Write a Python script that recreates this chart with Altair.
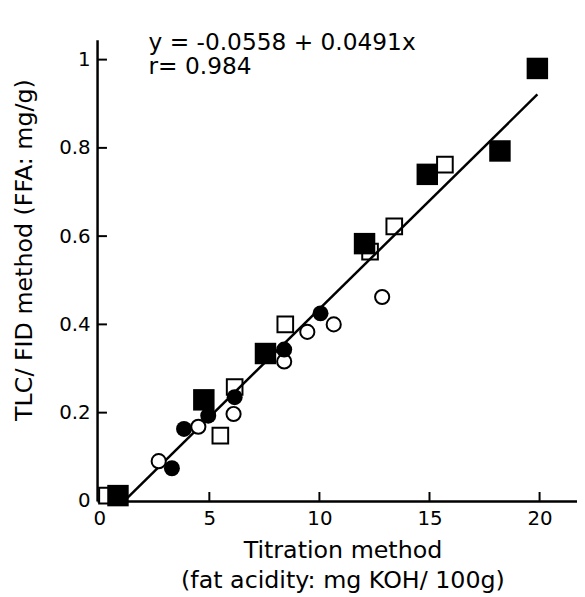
import altair as alt
import pandas as pd

# Filled squares
fs_x = [0.85, 4.75, 7.55, 12.05, 14.9, 18.2, 19.9]
fs_y = [0.012, 0.229, 0.334, 0.583, 0.740, 0.793, 0.980]
# Open squares
os_x = [0.35, 5.5, 6.15, 8.45, 12.3, 13.4, 15.7]
os_y = [0.012, 0.148, 0.258, 0.400, 0.565, 0.622, 0.762]
# Filled circles
fc_x = [3.3, 3.85, 4.95, 6.15, 8.4, 10.05]
fc_y = [0.074, 0.163, 0.193, 0.235, 0.343, 0.425]
# Open circles
oc_x = [2.7, 4.5, 6.1, 8.4, 9.45, 10.65, 12.85]
oc_y = [0.090, 0.168, 0.197, 0.316, 0.383, 0.400, 0.462]
# Regression line endpoints (y = -0.0558 + 0.0491x)
fit_x = [1.14, 19.9]
fit_y = [0.0, 0.921]

x_ticks = [0, 5, 10, 15, 20]
y_ticks = [0, 0.2, 0.4, 0.6, 0.8, 1.0]
eq_text = "y = -0.0558 + 0.0491x"
r_text = "r= 0.984"

W, H = 485, 466
xs = alt.Scale(domain=[-0.1, 21.7], nice=False, zero=False)
ys = alt.Scale(domain=[0, 1.045], nice=False, zero=False)

FONT = "DejaVu Sans"

xaxis = alt.Axis(values=x_ticks, format="~g", tickSize=0, grid=False,
                 domainColor="black", domainWidth=2.5,
                 labelFont=FONT, labelFontSize=20, labelColor="black", labelPadding=8,
                 title=["Titration method", "(fat acidity: mg KOH/ 100g)"],
                 titleFont=FONT, titleFontSize=24, titleFontWeight="normal",
                 titleColor="black", titleLineHeight=31,
                 titleX=248, titleY=38, titleBaseline="top", titleAlign="center",
                 titleAnchor="middle")
yaxis = alt.Axis(values=y_ticks, format="~g", tickSize=0, grid=False,
                 domainColor="black", domainWidth=2.5,
                 labelFont=FONT, labelFontSize=20, labelColor="black", labelPadding=7,
                 title="TLC/ FID method (FFA: mg/g)",
                 titleFont=FONT, titleFontSize=24, titleFontWeight="normal",
                 titleColor="black", titleX=-73, titleY=212, titleAngle=-90,
                 titleAlign="center", titleBaseline="middle")

def pts(xv, yv):
    return pd.DataFrame({"x": xv, "y": yv})

X = lambda: alt.X("x:Q", scale=xs, axis=xaxis)
Y = lambda: alt.Y("y:Q", scale=ys, axis=yaxis)

open_sq = alt.Chart(pts(os_x, os_y)).mark_point(
    shape="square", size=250, filled=False, fill="white", fillOpacity=1,
    stroke="black", strokeWidth=2, opacity=1
).encode(x=X(), y=Y())

open_ci = alt.Chart(pts(oc_x, oc_y)).mark_point(
    shape="circle", size=205, filled=False, fill="white", fillOpacity=1,
    stroke="black", strokeWidth=2, opacity=1
).encode(x=X(), y=Y())

fit = alt.Chart(pts(fit_x, fit_y)).mark_line(color="black", strokeWidth=2.5).encode(
    x=X(), y=Y())

filled_sq = alt.Chart(pts(fs_x, fs_y)).mark_point(
    shape="square", size=470, filled=True, color="black", opacity=1
).encode(x=X(), y=Y())

filled_ci = alt.Chart(pts(fc_x, fc_y)).mark_point(
    shape="circle", size=260, filled=True, color="black", opacity=1
).encode(x=X(), y=Y())

xt = alt.Chart(pd.DataFrame({"x": x_ticks[1:]})).mark_rule(color="black", strokeWidth=2).encode(
    x=X(), y=alt.value(H), y2=alt.value(H - 9))
yt = alt.Chart(pd.DataFrame({"y": y_ticks[1:]})).mark_rule(color="black", strokeWidth=2).encode(
    y=Y(), x=alt.value(0), x2=alt.value(10))

eq1 = alt.Chart(pd.DataFrame({"t": [eq_text]})).mark_text(
    align="left", baseline="alphabetic", font=FONT, fontSize=23.5, color="black"
).encode(text="t:N", x=alt.value(52), y=alt.value(10))
eq2 = alt.Chart(pd.DataFrame({"t": [r_text]})).mark_text(
    align="left", baseline="alphabetic", font=FONT, fontSize=23.5, color="black"
).encode(text="t:N", x=alt.value(52), y=alt.value(35))

chart = alt.layer(open_sq, xt, yt, fit, open_ci, filled_sq, filled_ci, eq1, eq2).properties(
    width=W, height=H,
    autosize=alt.AutoSizeParams(type="none"),
    padding={"left": 90, "top": 29, "right": 0, "bottom": 92},
).configure(background="white", view=alt.ViewConfig(stroke=None))

chart.save("out.html", embed_options={"renderer": "svg", "actions": False})
